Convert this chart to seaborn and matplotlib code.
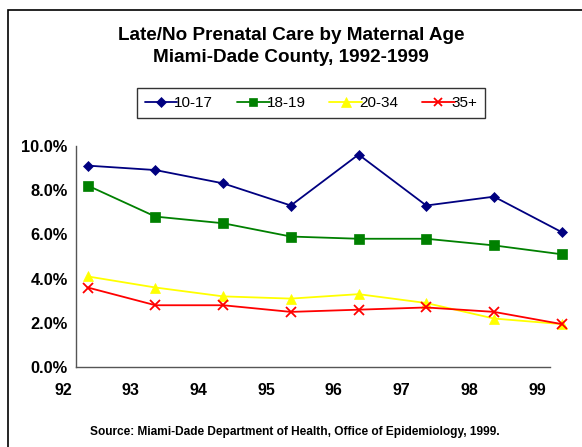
import numpy as np
import pandas as pd
import matplotlib
matplotlib.use("Agg")
import matplotlib.pyplot as plt
from matplotlib.patches import Rectangle
import seaborn as sns

years = [92, 93, 94, 95, 96, 97, 98, 99]
year_labels = ["92", "93", "94", "95", "96", "97", "98", "99"]
age_10_17 = [9.1, 8.9, 8.3, 7.3, 9.6, 7.3, 7.7, 6.1]
age_18_19 = [8.2, 6.8, 6.5, 5.9, 5.8, 5.8, 5.5, 5.1]
age_20_34 = [4.1, 3.6, 3.2, 3.1, 3.3, 2.9, 2.2, 1.95]
age_35p = [3.6, 2.8, 2.8, 2.5, 2.6, 2.7, 2.5, 1.95]
series_names = ["10-17", "18-19", "20-34", "35+"]

sns.set_style("white")
plt.rcParams['font.family'] = ['Liberation Sans', 'DejaVu Sans']
plt.rcParams['text.color'] = 'black'
plt.rcParams['xtick.color'] = 'black'
plt.rcParams['ytick.color'] = 'black'

fig = plt.figure(figsize=(5.82, 4.47), dpi=100)
ax = fig.add_axes([0.1306, 0.1783, 0.8144, 0.4958])

styles = {
    "10-17": dict(color="#000080", marker="D", ms=5.5),
    "18-19": dict(color="#008000", marker="s", ms=6.5),
    "20-34": dict(color="#FFFF00", marker="^", ms=7.5),
    "35+": dict(color="#FF0000", marker="x", ms=6.5),
}
values = [age_10_17, age_18_19, age_20_34, age_35p]

for name, vals in zip(series_names, values):
    df = pd.DataFrame({"year": years, "pct": np.array(vals) / 100.0})
    st = styles[name]
    sns.lineplot(data=df, x="year", y="pct", ax=ax, color=st["color"],
                 marker=st["marker"], markersize=st["ms"], linewidth=1.3,
                 markeredgecolor=st["color"], markerfacecolor=st["color"],
                 markeredgewidth=1.3 if st["marker"] == "x" else 0.5,
                 label=name, clip_on=False, legend=False)

# x axis: ticks between categories, data points a bit right of ticks
x0 = years[0] - 0.173
ax.set_xlim(x0, x0 + 7)
tick_pos = [x0 + i for i in range(8)]
ax.set_xticks(tick_pos)
ax.set_xticklabels([])
for i, lab in enumerate(year_labels):
    ax.text(tick_pos[i] - 0.192, -0.105, lab, transform=ax.get_xaxis_transform(),
            ha="center", va="center", fontsize=11.5, fontweight="bold",
            clip_on=False)

ax.set_ylim(0, 0.10)
ax.set_yticks([0, 0.02, 0.04, 0.06, 0.08, 0.10])
ax.set_yticklabels(["0.0%", "2.0%", "4.0%", "6.0%", "8.0%", "10.0%"],
                   fontsize=11.8, fontweight="bold")
ax.set_xlabel("")
ax.set_ylabel("")

for s in ["top", "right"]:
    ax.spines[s].set_visible(False)
for s in ["left", "bottom"]:
    ax.spines[s].set_color("#555555")
    ax.spines[s].set_linewidth(1.0)
ax.tick_params(axis="both", direction="out", length=4, width=1.0,
               color="#555555", pad=2)

# legend
handles = [plt.Line2D([], [], color=styles[n]["color"], marker=styles[n]["marker"],
                      markersize=styles[n]["ms"] - 0.5,
                      markeredgewidth=1.3 if styles[n]["marker"] == "x" else 0.5,
                      linewidth=1.3) for n in series_names]
leg = fig.legend(handles, series_names, loc="center", ncol=4,
                 bbox_to_anchor=(311 / 582, 1 - 103 / 447),
                 fontsize=11, frameon=True, fancybox=False, edgecolor="black",
                 handlelength=2.15, handletextpad=-0.2, columnspacing=1.55,
                 borderpad=0.5, borderaxespad=0)
leg.get_frame().set_linewidth(1.0)
for t in leg.get_texts():
    t.set_color("black")

# titles
fig.text(0.5, 1 - 35 / 447, "Late/No Prenatal Care by Maternal Age",
         ha="center", va="center", fontsize=13.6, fontweight="bold")
fig.text(0.5, 1 - 58 / 447, "Miami-Dade County, 1992-1999",
         ha="center", va="center", fontsize=13.6, fontweight="bold")
fig.text(295 / 582, 1 - 432 / 447,
         "Source: Miami-Dade Department of Health, Office of Epidemiology, 1999.",
         ha="center", va="center", fontsize=8.6, fontweight="bold")

# outer frame (extends beyond right and bottom edges)
fig.patches.append(Rectangle((8 / 582, -0.1), 1.2, 1 - 10 / 447 + 0.1,
                             transform=fig.transFigure, fill=False,
                             edgecolor="black", linewidth=1.2))

fig.savefig("out.png", dpi=100)
